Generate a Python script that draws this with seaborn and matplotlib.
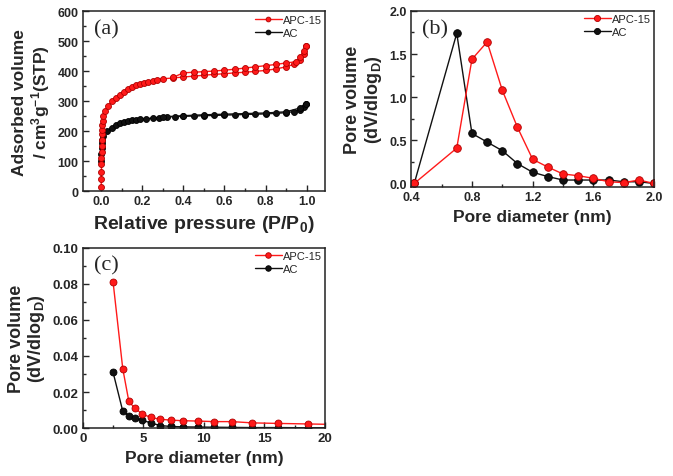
import matplotlib
matplotlib.use("Agg")
import matplotlib.pyplot as plt
import seaborn as sns
from matplotlib.ticker import MultipleLocator

# (a) N2 isotherms
apc_ads_p = [0.000, 0.000, 0.001, 0.001, 0.001, 0.002, 0.002, 0.003, 0.003, 0.004, 0.005, 0.007,
             0.010, 0.020, 0.035, 0.050, 0.070, 0.090, 0.110, 0.130, 0.150, 0.170, 0.190, 0.210,
             0.230, 0.250, 0.270, 0.300, 0.350, 0.400, 0.450, 0.500, 0.550, 0.600, 0.650, 0.700,
             0.750, 0.800, 0.850, 0.900, 0.940, 0.970, 0.985, 0.995]
apc_ads_v = [15, 40, 65, 90, 110, 130, 150, 170, 190, 205, 220, 235,
             250, 268, 285, 300, 312, 322, 332, 340, 347, 353, 358, 362,
             366, 369, 372, 375, 378, 381, 384, 387, 390, 392, 395, 397,
             400, 403, 408, 415, 424, 438, 458, 485]
apc_des_p = [0.995, 0.985, 0.970, 0.950, 0.900, 0.850, 0.800, 0.750, 0.700, 0.650, 0.600,
             0.550, 0.500, 0.450, 0.400, 0.350]
apc_des_v = [485, 468, 448, 432, 428, 423, 419, 415, 411, 407, 404,
             401, 399, 397, 395, 380]

ac_ads_p = [0.000, 0.001, 0.002, 0.003, 0.005, 0.010, 0.030, 0.050, 0.070, 0.090, 0.110,
            0.130, 0.150, 0.170, 0.190, 0.220, 0.250, 0.280, 0.320, 0.360, 0.400, 0.450,
            0.500, 0.550, 0.600, 0.650, 0.700, 0.750, 0.800, 0.850, 0.900, 0.940, 0.970,
            0.985, 0.995]
ac_ads_v = [100, 125, 145, 160, 170, 185, 200, 212, 220, 226, 230,
            233, 236, 238, 240, 242, 244, 246, 248, 249, 250, 251,
            252, 253, 254, 255, 256, 257, 258, 260, 262, 266, 272,
            282, 292]
ac_des_p = [0.995, 0.970, 0.900, 0.800, 0.700, 0.600, 0.500, 0.400, 0.300]
ac_des_v = [292, 278, 265, 261, 259, 257, 255, 252, 248]

# (b) micropore distribution
b_d = [0.42, 0.7, 0.8, 0.9, 1.0, 1.1, 1.2, 1.3, 1.4, 1.5, 1.6, 1.7, 1.8, 1.9, 2.0]
b_apc = [0.00, 0.41, 1.44, 1.64, 1.08, 0.65, 0.28, 0.19, 0.11, 0.09, 0.06, 0.02, 0.01, 0.04, 0.00]
b_ac = [0.00, 1.74, 0.58, 0.48, 0.38, 0.23, 0.13, 0.08, 0.04, 0.04, 0.04, 0.04, 0.02, 0.02, 0.00]

# (c) mesopore distribution
c_d = [2.5, 3.3, 3.8, 4.3, 4.9, 5.6, 6.4, 7.3, 8.3, 9.5, 10.8, 12.3, 14.0, 16.1, 18.6, 21.0]
c_apc = [0.081, 0.033, 0.015, 0.011, 0.008, 0.006, 0.005, 0.0045, 0.0042, 0.0040,
         0.0037, 0.0037, 0.0030, 0.0027, 0.0024, 0.0021]
c_ac = [0.031, 0.0095, 0.0070, 0.0055, 0.0045, 0.0030, 0.0015, 0.0010, 0.0008, 0.0007,
        0.0006, 0.0005, 0.0004, 0.0004, 0.0003, 0.0003]

sns.set_style("ticks")
plt.rcParams["font.family"] = ["Liberation Sans", "DejaVu Sans"]
plt.rcParams["mathtext.fontset"] = "custom"
plt.rcParams["mathtext.bf"] = "Liberation Sans:bold"
plt.rcParams["mathtext.rm"] = "Liberation Sans:bold"
plt.rcParams["mathtext.default"] = "bf"

RED, RED_E = "#ff1a1a", "#b00000"
BLK, BLK_E = "#111111", "#000000"

fig = plt.figure(figsize=(6.73, 4.77), dpi=100)
ax_a = fig.add_axes([0.123, 0.597, 0.360, 0.377])
ax_b = fig.add_axes([0.611, 0.606, 0.361, 0.369])
ax_c = fig.add_axes([0.123, 0.100, 0.360, 0.379])


def draw(ax, x, y, color, ecolor, ms, label=None):
    sns.lineplot(x=x, y=y, ax=ax, sort=False, estimator=None, color=color, lw=1.0,
                 marker="o", markersize=ms, markerfacecolor=color,
                 markeredgecolor=ecolor, markeredgewidth=0.6, label=label)


draw(ax_a, ac_ads_p, ac_ads_v, BLK, BLK_E, 4.3, "AC")
draw(ax_a, ac_des_p, ac_des_v, BLK, BLK_E, 4.3)
draw(ax_a, apc_ads_p, apc_ads_v, RED, RED_E, 4.3, "APC-15")
draw(ax_a, apc_des_p, apc_des_v, RED, RED_E, 4.3)

draw(ax_b, b_d, b_ac, BLK, BLK_E, 5.5, "AC")
draw(ax_b, b_d, b_apc, RED, RED_E, 5.5, "APC-15")

draw(ax_c, c_d, c_ac, BLK, BLK_E, 5, "AC")
draw(ax_c, c_d, c_apc, RED, RED_E, 5, "APC-15")

ax_a.set_xlim(-0.09, 1.09)
ax_a.set_ylim(0, 600)
ax_a.xaxis.set_major_locator(MultipleLocator(0.2))
ax_a.xaxis.set_minor_locator(MultipleLocator(0.1))
ax_a.yaxis.set_major_locator(MultipleLocator(100))
ax_a.yaxis.set_minor_locator(MultipleLocator(50))
ax_a.set_xlabel("Relative pressure (P/P$_0$)", fontsize=14, fontweight="bold")
ax_a.set_ylabel("Adsorbed volume\n/ cm$^3$g$^{-1}$(STP)", fontsize=12.5,
                fontweight="bold", linespacing=1.1)

ax_b.set_xlim(0.4, 2.0)
ax_b.set_ylim(-0.04, 2.0)
ax_b.xaxis.set_major_locator(MultipleLocator(0.4))
ax_b.xaxis.set_minor_locator(MultipleLocator(0.2))
ax_b.yaxis.set_major_locator(MultipleLocator(0.5))
ax_b.yaxis.set_minor_locator(MultipleLocator(0.25))
ax_b.set_xlabel("Pore diameter (nm)", fontsize=12.5, fontweight="bold")
ax_b.set_ylabel("Pore volume\n(dV/dlog$_D$)", fontsize=13, fontweight="bold",
                linespacing=1.1)

ax_c.set_xlim(0, 20)
ax_c.set_ylim(0, 0.1)
ax_c.xaxis.set_major_locator(MultipleLocator(5))
ax_c.xaxis.set_minor_locator(MultipleLocator(2.5))
ax_c.yaxis.set_major_locator(MultipleLocator(0.02))
ax_c.yaxis.set_minor_locator(MultipleLocator(0.01))
ax_c.set_xlabel("Pore diameter (nm)", fontsize=12.5, fontweight="bold")
ax_c.set_ylabel("Pore volume\n(dV/dlog$_D$)", fontsize=13, fontweight="bold",
                linespacing=1.1)

ax_a.yaxis.set_major_formatter(plt.FuncFormatter(lambda v, p: f"{v:.0f}"))
ax_a.xaxis.set_major_formatter(plt.FuncFormatter(lambda v, p: f"{v:.1f}"))
ax_c.yaxis.set_major_formatter(plt.FuncFormatter(lambda v, p: f"{v:.2f}"))

for ax, tag, tsize in [(ax_a, "(a)", 9), (ax_b, "(b)", 9), (ax_c, "(c)", 9.5)]:
    for s in ax.spines.values():
        s.set_visible(True)
        s.set_linewidth(1.1)
        s.set_color("#222222")
    ax.tick_params(which="both", direction="in", top=False, right=False, width=1.0)
    ax.tick_params(which="major", length=4, labelsize=tsize, pad=3)
    ax.tick_params(which="minor", length=2)
    for t in ax.get_xticklabels() + ax.get_yticklabels():
        t.set_fontweight("bold")
    ax.text(0.045, 0.955, tag, transform=ax.transAxes, ha="left", va="top",
            fontsize=16, family="Liberation Serif")
    h, l = ax.get_legend_handles_labels()
    order = [l.index("APC-15"), l.index("AC")]
    ax.legend([h[i] for i in order], [l[i] for i in order], loc="upper right",
              frameon=False, fontsize=8, handlelength=2.4, handletextpad=0.1,
              labelspacing=0.25, borderaxespad=0.1, borderpad=0.2,
              markerscale=0.8)

fig.savefig("out.png", dpi=100)
